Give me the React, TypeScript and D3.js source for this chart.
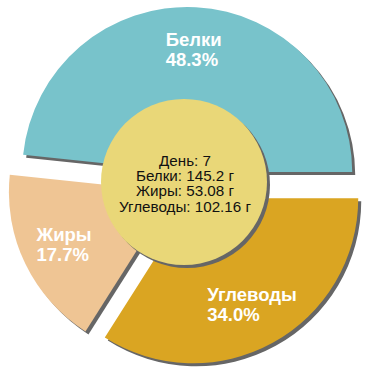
import React, { useEffect, useRef } from "react";
import * as d3 from "d3";

const categories = ["Белки", "Жиры", "Углеводы"];
const grams = [145.2, 53.08, 102.16];
const colors = ["#78c3cb", "#efc594", "#daa522"];
const day = 7;

const W = 370;
const H = 370;

export default function App() {
  const ref = useRef<SVGSVGElement | null>(null);

  useEffect(() => {
    const svg = d3.select(ref.current);
    svg.selectAll("*").remove();

    const cx = 186.5;
    const cy = 186;
    const R = 165;
    const explode = 14;
    const labelR = 122;
    const shadow = 3;

    const total = d3.sum(grams);
    const data = categories.map((c, i) => ({ name: c, value: grams[i], color: colors[i] }));

    const pie = d3
      .pie<any>()
      .sort(null)
      .value((d: any) => d.value)
      .startAngle(Math.PI / 2)
      .endAngle(Math.PI / 2 - 2 * Math.PI);
    const arcs = pie(data);
    const arc = d3.arc<any>().innerRadius(0).outerRadius(R);

    const off = (a: any) => {
      const m = (a.startAngle + a.endAngle) / 2;
      return [cx + Math.sin(m) * explode, cy - Math.cos(m) * explode, m];
    };

    const g = svg.append("g");
    // shadows
    g.selectAll("path.sh")
      .data(arcs)
      .enter()
      .append("path")
      .attr("class", "sh")
      .attr("d", (d: any) => arc(d) as string)
      .attr("fill", "#666")
      .attr("transform", (d: any) => {
        const [x, y] = off(d);
        return `translate(${x + shadow},${y + shadow})`;
      });
    // slices
    g.selectAll("path.sl")
      .data(arcs)
      .enter()
      .append("path")
      .attr("class", "sl")
      .attr("d", (d: any) => arc(d) as string)
      .attr("fill", (d: any) => d.data.color)
      .attr("transform", (d: any) => {
        const [x, y] = off(d);
        return `translate(${x},${y})`;
      });

    // labels
    arcs.forEach((d: any) => {
      const [x, y, m] = off(d);
      const lx = x + Math.sin(m as number) * labelR;
      const ly = y - Math.cos(m as number) * labelR;
      const pct = ((d.data.value / total) * 100).toFixed(1) + "%";
      const t = g
        .append("text")
        .attr("fill", "#fff")
        .attr("font-family", "'Liberation Sans', Arial, sans-serif")
        .attr("font-weight", "bold")
        .attr("font-size", 18.5);
      const t1 = t.append("tspan").attr("y", ly - 4).text(d.data.name);
      const t2 = t.append("tspan").attr("y", ly + 16).text(pct);
      const w = Math.max(
        (t1.node() as any).getComputedTextLength(),
        (t2.node() as any).getComputedTextLength()
      );
      t1.attr("x", lx - w / 2);
      t2.attr("x", lx - w / 2);
    });

    // center circle
    const ccx = 184;
    const ccy = 182;
    const cr = 83;
    g.append("circle").attr("cx", ccx + shadow).attr("cy", ccy + shadow).attr("r", cr).attr("fill", "#666");
    g.append("circle").attr("cx", ccx).attr("cy", ccy).attr("r", cr).attr("fill", "#e9d778");

    const lines = [
      `День: ${day}`,
      ...categories.map((c, i) => `${c}: ${grams[i]} г`),
    ];
    const ct = g
      .append("text")
      .attr("text-anchor", "middle")
      .attr("font-family", "'Liberation Sans', Arial, sans-serif")
      .attr("font-size", 15.2)
      .attr("fill", "#111");
    const lh = 15.4;
    lines.forEach((l, i) => {
      ct.append("tspan")
        .attr("x", ccx + 1)
        .attr("y", ccy - 16.4 + i * lh)
        .text(l);
    });
  }, []);

  return (
    <svg
      ref={ref}
      width={W}
      height={H}
      style={{ position: "absolute", left: 0, top: 0, background: "#fff" }}
    />
  );
}
